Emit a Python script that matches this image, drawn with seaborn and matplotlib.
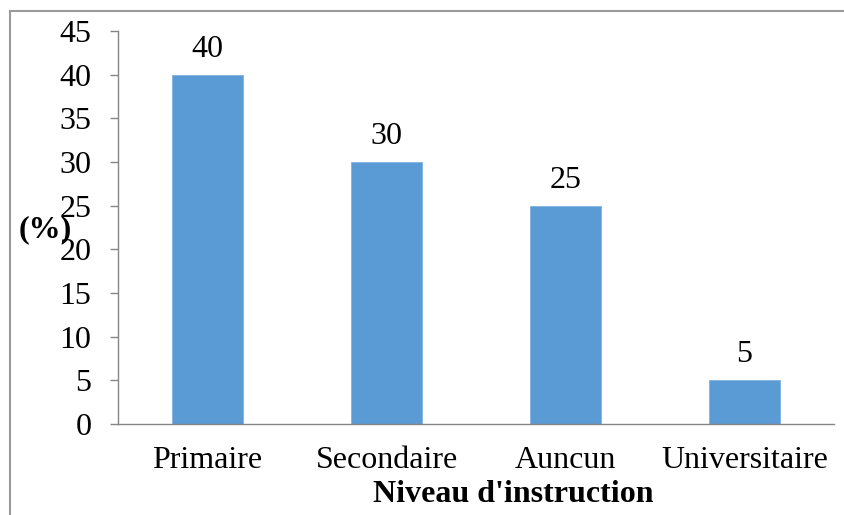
import matplotlib
matplotlib.use('Agg')
import matplotlib.pyplot as plt
import seaborn as sns
from matplotlib.patches import Rectangle

categories = ["Primaire", "Secondaire", "Auncun", "Universitaire"]
values = [40, 30, 25, 5]
y_ticks = [0, 5, 10, 15, 20, 25, 30, 35, 40, 45]

sns.set_style("white")
plt.rcParams['font.family'] = ['Liberation Serif', 'DejaVu Serif']
plt.rcParams['text.color'] = 'black'
plt.rcParams['xtick.color'] = 'black'
plt.rcParams['ytick.color'] = 'black'
plt.rcParams['axes.labelcolor'] = 'black'

W, H = 844, 515
fig = plt.figure(figsize=(W / 100, H / 100), dpi=100)
ax = fig.add_axes([118 / W, 1 - 424 / H, (834 - 118) / W, (424 - 31) / H])

sns.barplot(x=categories, y=values, color="#5B9BD5", width=0.4,
            saturation=1, edgecolor="#7FB2E0", linewidth=0.6, ax=ax)

ax.set_ylim(0, 45)
ax.set_xlim(-0.5, len(categories) - 0.5)
ax.set_yticks(y_ticks)
ax.set_yticklabels([str(t) for t in y_ticks], fontsize=23)
ax.set_xticks(range(len(categories)))
ax.set_xticklabels(categories, fontsize=23)
ax.set_xticks([i - 0.5 for i in range(len(categories) + 1)], minor=True)

ax.tick_params(axis='x', which='major', length=0, pad=16, labelcolor='black')
ax.tick_params(axis='x', which='minor', length=6, width=1, color='#868686',
               direction='out')
ax.tick_params(axis='y', length=6, width=1, color='#868686', pad=13,
               direction='out', left=True, labelcolor='black')

for side in ['top', 'right']:
    ax.spines[side].set_visible(False)
for side in ['left', 'bottom']:
    ax.spines[side].set_color('#868686')
    ax.spines[side].set_linewidth(1)

ax.set_xlabel("")
ax.set_ylabel("")

for c in ax.containers:
    ax.bar_label(c, labels=[str(v) for v in values], fontsize=23, padding=8,
                 color='black')

fig.text(513 / W, 1 - 494 / H, "Niveau d'instruction", fontsize=23,
         fontweight='bold', ha='center', va='center', color='black')
fig.text(45 / W, 1 - 230 / H, "(%)", fontsize=23, fontweight='bold',
         ha='center', va='center', color='black')

# outer chart frame
fig.patches.append(Rectangle((10 / W, -0.1), 1.1, 1 - 11 / H + 0.1,
                             transform=fig.transFigure, fill=False,
                             edgecolor='#9a9a9a', linewidth=1.5))

fig.savefig("out.png", dpi=100)
plt.close(fig)
